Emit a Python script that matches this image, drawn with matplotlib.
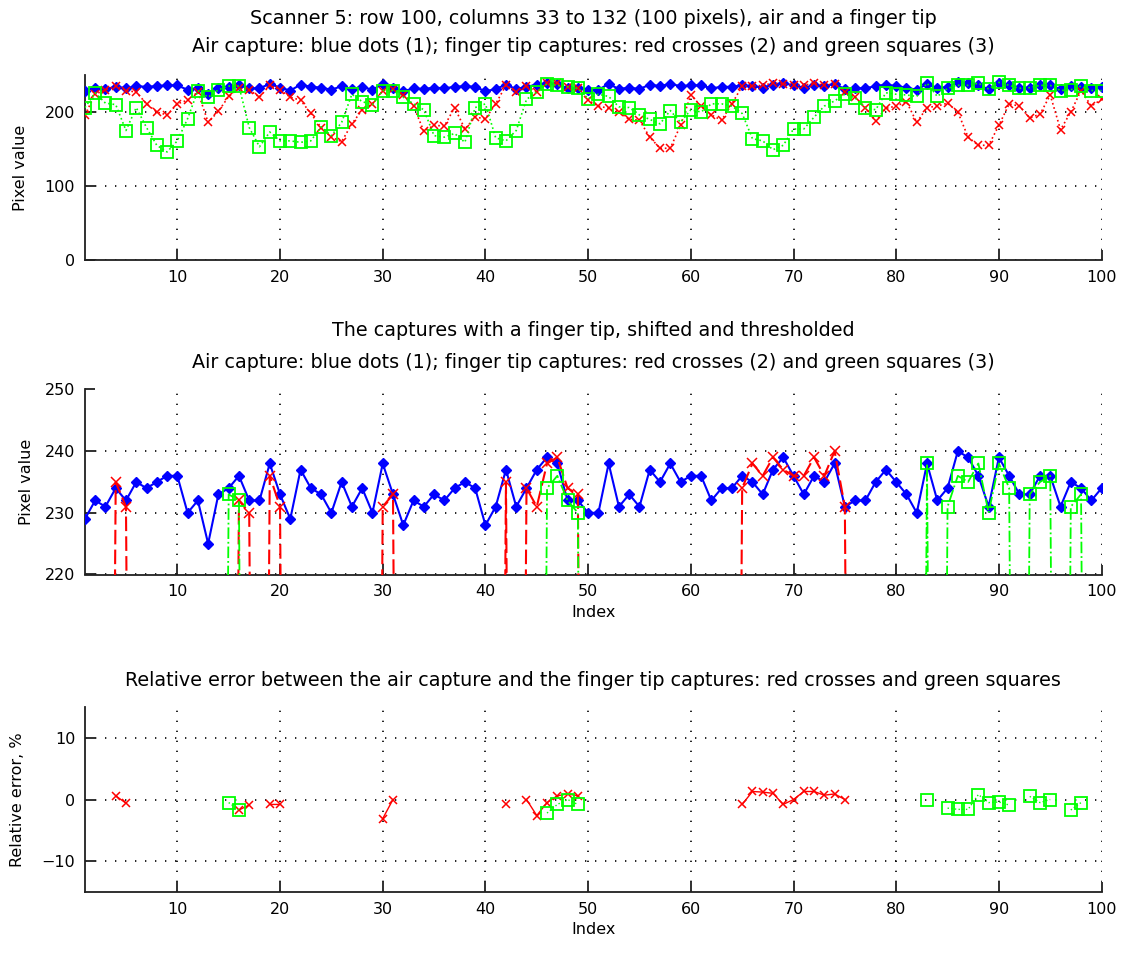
import matplotlib

matplotlib.use("Agg")
import matplotlib.pyplot as plt
import numpy as np

W, H = 1126, 959
N = 100
index = np.arange(1, N + 1)

# air capture (blue dots)
air = [
    229, 232, 231, 234, 232, 235, 234, 235, 236, 236,
    230, 232, 225, 233, 234, 236, 232, 232, 238, 233,
    229, 237, 234, 233, 230, 235, 231, 234, 230, 238,
    233, 228, 232, 231, 233, 232, 234, 235, 234, 228,
    231, 237, 231, 234, 237, 239, 238, 232, 232, 230,
    230, 238, 231, 233, 231, 237, 235, 238, 235, 236,
    236, 232, 234, 234, 236, 235, 233, 237, 239, 236,
    233, 236, 235, 238, 231, 232, 232, 235, 237, 235,
    233, 230, 238, 232, 234, 240, 239, 236, 231, 239,
    236, 233, 233, 236, 236, 231, 235, 234, 232, 234,
]

# finger tip capture 2 (red crosses), raw
finger2 = [
    196, 224, 230, 235, 229, 227, 211, 200, 196, 211,
    216, 227, 186, 201, 221, 232, 230, 220, 236, 230,
    220, 216, 198, 179, 166, 160, 184, 203, 211, 229,
    231, 223, 208, 174, 182, 181, 206, 177, 193, 191,
    211, 236, 227, 235, 227, 239, 239, 234, 232, 216,
    208, 205, 200, 190, 189, 166, 151, 151, 182, 223,
    208, 196, 189, 211, 235, 235, 236, 239, 238, 236,
    236, 239, 236, 238, 227, 220, 206, 188, 205, 208,
    214, 186, 206, 208, 212, 200, 166, 155, 155, 182,
    211, 208, 192, 197, 223, 176, 200, 229, 208, 217,
]

# finger tip capture 3 (green squares), raw
finger3 = [
    206, 226, 212, 210, 175, 206, 179, 155, 146, 161,
    191, 229, 220, 230, 235, 235, 179, 153, 173, 161,
    161, 159, 161, 180, 168, 186, 224, 214, 210, 229,
    229, 220, 211, 203, 168, 166, 171, 159, 206, 211,
    165, 161, 175, 217, 227, 238, 236, 234, 232, 218,
    224, 221, 207, 206, 196, 190, 184, 202, 186, 203,
    200, 211, 211, 208, 198, 164, 161, 149, 155, 177,
    177, 193, 208, 215, 224, 219, 206, 203, 226, 224,
    223, 221, 239, 221, 232, 236, 236, 239, 231, 240,
    236, 232, 233, 236, 236, 229, 230, 235, 229, 229,
]

# shifted and thresholded captures (everything else is 0)
thr2_idx = [4, 5, 16, 17, 19, 20, 30, 31, 42, 44, 45, 46, 47, 48, 49,
            65, 66, 67, 68, 69, 70, 71, 72, 73, 74, 75]
thr2_val = [235, 231, 232, 230, 236, 231, 231, 233, 235, 234, 231, 238, 239, 234, 233,
            234, 238, 236, 239, 237, 236, 236, 239, 236, 240, 231]
thr3_idx = [15, 16, 46, 47, 48, 49, 83, 85, 86, 87, 88, 89, 90, 91, 93, 94, 95, 97, 98]
thr3_val = [233, 232, 234, 236, 232, 230, 238, 231, 236, 235, 238, 230, 238, 234,
            233, 235, 236, 231, 233]

# relative error, %
err2_val = [0.6, -0.6, -1.7, -0.9, -0.8, -0.8, -3.1, 0.0, -0.8, 0.0, -2.6, -0.5, 0.6, 0.9, 0.6,
            -0.8, 1.3, 1.2, 1.0, -0.8, 0.0, 1.3, 1.3, 0.7, 0.9, 0.0]
err3_val = [-0.5, -1.7, -2.2, -0.8, 0.0, -0.8, 0.0, -1.4, -1.6, -1.6, 0.8, -0.5, -0.4, -0.9,
            0.5, -0.5, 0.0, -1.7, -0.5]

x_ticks = [10, 20, 30, 40, 50, 60, 70, 80, 90, 100]

BLUE = (0, 0, 1)
RED = (1, 0, 0)
GREEN = (0, 1, 0)
FS = 11.5
TITLE_FS = 13.8
GRID_LS = (0, (0.8, 5.2))


def _sparse(idx, vals, fill):
    out = np.full(N, fill, dtype=float)
    out[np.asarray(idx) - 1] = vals
    return out


def _axes(fig, top, bottom, left=84.9, right=1101.6):
    return fig.add_axes([left / W, 1 - bottom / H, (right - left) / W, (bottom - top) / H])


def _style(ax, yticks, ylim):
    ax.set_xlim(1, N)
    ax.set_ylim(*ylim)
    ax.set_xticks(x_ticks)
    ax.set_yticks(yticks)
    ax.spines["top"].set_visible(False)
    ax.spines["right"].set_visible(False)
    for s in ("left", "bottom"):
        ax.spines[s].set_linewidth(1.3)
        ax.spines[s].set_color("#202020")
    ax.tick_params(direction="in", length=7, width=1.3, labelsize=FS, pad=7, colors="#202020",
                   labelcolor="black")
    ax.grid(True, linestyle=GRID_LS, color="black", linewidth=1.2)
    ax.set_axisbelow(True)


def _title(fig, y, text):
    fig.text(593 / W, 1 - y / H, text, ha="center", va="center", fontsize=TITLE_FS)


def main() -> None:
    fig = plt.figure(figsize=(W / 100, H / 100), dpi=100)

    # top: raw captures
    ax1 = _axes(fig, 75, 260)
    ax1.plot(index, air, "-", color=BLUE, lw=1.5, marker="D", ms=5, zorder=3)
    ax1.plot(index, finger2, ":", color=RED, lw=1.2, marker="x", ms=6, mew=1.1, zorder=4)
    ax1.plot(index, finger3, ":", color=GREEN, lw=1.2, marker="s", ms=8, mfc="none", mew=1.3,
             zorder=5)
    _style(ax1, [0, 100, 200], (0, 250))
    ax1.set_ylabel("Pixel value", fontsize=FS, labelpad=12)
    _title(fig, 18, "Scanner 5: row 100, columns 33 to 132 (100 pixels), air and a finger tip")
    _title(fig, 47, "Air capture: blue dots (1); finger tip captures: red crosses (2) and green squares (3)")

    # middle: shifted and thresholded
    ax2 = _axes(fig, 389.5, 574.5)
    ax2.plot(index, air, "-", color=BLUE, lw=1.5, marker="D", ms=5, zorder=3)
    ax2.plot(index, _sparse(thr2_idx, thr2_val, 0.0), color=RED, lw=1.5,
             linestyle=(0, (7, 2.5)), marker="x", ms=7, mew=1.1, zorder=4)
    ax2.plot(index, _sparse(thr3_idx, thr3_val, 0.0), "-.", color=GREEN, lw=1.3,
             marker="s", ms=8, mfc="none", mew=1.3, zorder=5)
    _style(ax2, [220, 230, 240, 250], (220, 250))
    ax2.set_ylabel("Pixel value", fontsize=FS, labelpad=8)
    ax2.set_xlabel("Index", fontsize=FS, labelpad=4)
    _title(fig, 330, "The captures with a finger tip, shifted and thresholded")
    _title(fig, 363, "Air capture: blue dots (1); finger tip captures: red crosses (2) and green squares (3)")

    # bottom: relative error
    ax3 = _axes(fig, 707, 892)
    ax3.plot(index, _sparse(thr2_idx, err2_val, np.nan), "-", color=RED, lw=1.0,
             marker="x", ms=6, mew=1.1, zorder=4)
    ax3.plot(index, _sparse(thr3_idx, err3_val, np.nan), ":", color=GREEN, lw=1.0,
             marker="s", ms=8, mfc="none", mew=1.3, zorder=5)
    _style(ax3, [-10, 0, 10], (-15, 15))
    ax3.set_ylabel("Relative error, %", fontsize=FS, labelpad=12)
    ax3.set_xlabel("Index", fontsize=FS, labelpad=4)
    _title(fig, 680, "Relative error between the air capture and the finger tip captures: red crosses and green squares")

    fig.savefig("out.png", dpi=100)
    plt.close(fig)


if __name__ == "__main__":
    main()
